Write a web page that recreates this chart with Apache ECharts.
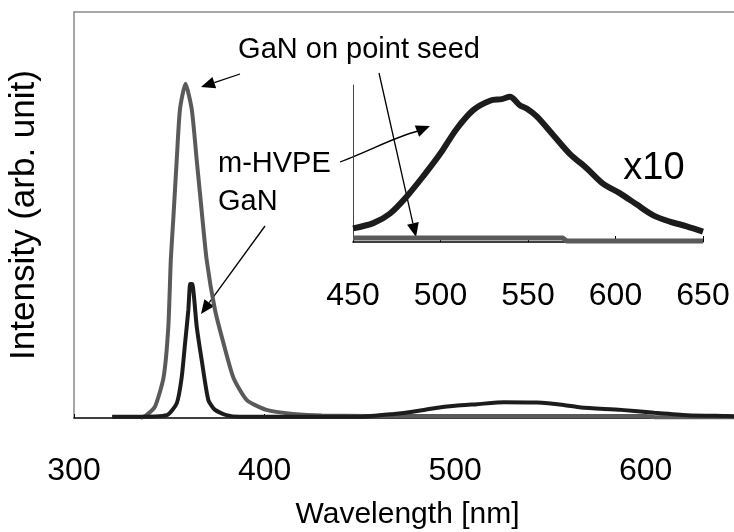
<!DOCTYPE html>
<html>
<head>
<meta charset="utf-8">
<script src="https://cdn.jsdelivr.net/npm/echarts@6/dist/echarts.min.js"></script>
<style>
  html, body { margin: 0; padding: 0; background: #fff; }
  #chart { width: 734px; height: 532px; }
</style>
</head>
<body>
<div id="chart"></div>
<script>
// main spectrum, wavelength [nm] / intensity (arb. unit, 0..1 of axis)
const xTicks = [300, 400, 500, 600]
const insetTicks = [450, 500, 550, 600, 650]

const seedX = [335, 338, 342.5, 347, 349.5, 350.8, 352.1, 353.9, 355.6, 358.5, 361.8, 364.4, 367, 369.6, 374, 378.4, 383.6, 390.7, 401, 415, 430, 480, 600, 605, 650]
const seedY = [0, 0.007, 0.028, 0.10, 0.225, 0.39, 0.49, 0.635, 0.76, 0.823, 0.76, 0.635, 0.51, 0.39, 0.266, 0.185, 0.10, 0.044, 0.02, 0.01, 0.006, 0.005, 0.005, 0.002, 0.002]

const hvpeX = [320, 331, 348.7, 353.9, 356.5, 358.3, 360, 361, 362, 364.4, 367, 370.5, 374, 380, 387, 450, 468, 478.5, 489, 500, 511.5, 525.7, 543, 557, 566, 587, 604.5, 621.8, 642.8, 650]
const hvpeY = [0.003, 0.003, 0.007, 0.036, 0.10, 0.185, 0.266, 0.33, 0.33, 0.225, 0.143, 0.044, 0.02, 0.007, 0.003, 0.003, 0.01, 0.016, 0.024, 0.03, 0.034, 0.039, 0.038, 0.032, 0.026, 0.02, 0.013, 0.007, 0.005, 0.004]

// inset (x10)
const insetHvpeX = [450, 461.6, 471, 480.7, 490.2, 499.7, 509.2, 518.7, 528.3, 535, 539.7, 545.4, 549.2, 555, 564.5, 574, 583.5, 593, 602.6, 612, 621.6, 631, 640.7, 650]
const insetHvpeY = [0.087, 0.12, 0.18, 0.29, 0.42, 0.56, 0.72, 0.84, 0.90, 0.91, 0.925, 0.87, 0.85, 0.80, 0.68, 0.56, 0.47, 0.37, 0.31, 0.24, 0.17, 0.13, 0.10, 0.066]
const insetSeedX = [450, 570, 572, 650]
const insetSeedY = [0.025, 0.025, 0.007, 0.007]

const zip = (xs, ys) => xs.map((x, i) => [x, ys[i]])

const FONT = 'Liberation Sans, Arial, sans-serif'
const GRAY = '#5a5a5a'
const BLACK = '#1c1c1c'

function arrow(x1, y1, x2, y2) {
  const a = Math.atan2(y2 - y1, x2 - x1)
  const len = 14
  const w = 6
  const bx = x2 - len * Math.cos(a)
  const by = y2 - len * Math.sin(a)
  return [
    { type: 'line', shape: { x1: x1, y1: y1, x2: bx, y2: by }, style: { stroke: '#000', lineWidth: 1.3 } },
    { type: 'polygon', shape: { points: [[x2, y2], [bx + w * Math.sin(a), by - w * Math.cos(a)], [bx - w * Math.sin(a), by + w * Math.cos(a)]] }, style: { fill: '#000' } }
  ]
}

function label(text, x, y, size, align) {
  return {
    type: 'text', x: x, y: y,
    style: { text: text, font: size + 'px ' + FONT, fill: '#000', align: align || 'center', verticalAlign: 'middle', textAlign: align || 'center', textVerticalAlign: 'middle' }
  }
}

const myChart = echarts.init(document.getElementById('chart'))

// curved arrow m-HVPE -> inset curve
const curve = { x1: 340, y1: 162, cpx1: 372, cpy1: 150, cpx2: 392, cpy2: 138, x2: 418, y2: 131 }
const tip = [430, 126]

const option = {
  backgroundColor: '#fff',
  animation: false,
  grid: [
    { left: 74, top: 12, width: 667, height: 406, outerBoundsMode: 'none', containLabel: false },
    { left: 353, top: 85, width: 350, height: 157, outerBoundsMode: 'none', containLabel: false }
  ],
  xAxis: [
    {
      gridIndex: 0, type: 'value', min: 300, max: 650, interval: 100,
      axisLine: { lineStyle: { color: '#000', width: 1.5 } },
      axisTick: { show: true, inside: true, length: 4, lineStyle: { color: '#000' } },
      splitLine: { show: false },
      axisLabel: {
        margin: 37, color: '#000', fontSize: 32, fontFamily: FONT, showMaxLabel: false,
        formatter: v => (xTicks.indexOf(v) >= 0 ? String(v) : '')
      },
      name: 'Wavelength [nm]', nameLocation: 'middle', nameGap: 82,
      nameTextStyle: { color: '#000', fontSize: 30, fontFamily: FONT }
    },
    {
      gridIndex: 0, type: 'value', min: 300, max: 650, position: 'top',
      axisLine: { lineStyle: { color: '#8a8a8a', width: 1.5 } },
      axisTick: { show: false }, axisLabel: { show: false }, splitLine: { show: false }
    },
    {
      gridIndex: 1, type: 'value', min: 450, max: 650, interval: 50,
      axisLine: { lineStyle: { color: '#000', width: 1.5 } },
      axisTick: { show: true, inside: true, length: 6, lineStyle: { color: '#000' } },
      splitLine: { show: false },
      axisLabel: {
        margin: 38, color: '#000', fontSize: 32, fontFamily: FONT,
        formatter: v => (insetTicks.indexOf(v) >= 0 ? String(v) : '')
      }
    }
  ],
  yAxis: [
    {
      gridIndex: 0, type: 'value', min: 0, max: 1,
      axisLine: { show: true, lineStyle: { color: '#8a8a8a', width: 1.5 } },
      axisTick: { show: false }, axisLabel: { show: false }, splitLine: { show: false },
      name: 'Intensity (arb. unit)', nameLocation: 'middle', nameGap: 32,
      nameTextStyle: { color: '#000', fontSize: 35, fontFamily: FONT }
    },
    {
      gridIndex: 1, type: 'value', min: 0, max: 1,
      axisLine: { show: true, lineStyle: { color: '#444', width: 1 } },
      axisTick: { show: false }, axisLabel: { show: false }, splitLine: { show: false }
    }
  ],
  series: [
    {
      name: 'GaN on point seed', type: 'line', xAxisIndex: 0, yAxisIndex: 0,
      data: zip(seedX, seedY), symbol: 'none', smooth: 0.2,
      lineStyle: { color: GRAY, width: 4 }
    },
    {
      name: 'm-HVPE GaN', type: 'line', xAxisIndex: 0, yAxisIndex: 0,
      data: zip(hvpeX, hvpeY), symbol: 'none', smooth: 0.2,
      lineStyle: { color: BLACK, width: 4 }
    },
    {
      name: 'GaN on point seed x10', type: 'line', xAxisIndex: 2, yAxisIndex: 1,
      data: zip(insetSeedX, insetSeedY), symbol: 'none',
      lineStyle: { color: GRAY, width: 5 }
    },
    {
      name: 'm-HVPE GaN x10', type: 'line', xAxisIndex: 2, yAxisIndex: 1,
      data: zip(insetHvpeX, insetHvpeY), symbol: 'none', smooth: 0.3,
      lineStyle: { color: BLACK, width: 6 }
    }
  ],
  graphic: [
    label('GaN on point seed', 359, 50, 29),
    label('m-HVPE', 218, 164, 29, 'left'),
    label('GaN', 218, 202, 29, 'left'),
    label('x10', 654, 169, 38),
    ...arrow(240, 74, 201, 87),
    ...arrow(379, 73, 416, 237),
    ...arrow(265, 226, 201, 314),
    { type: 'bezierCurve', shape: curve, style: { stroke: '#000', lineWidth: 1.3, fill: null } },
    ...arrow(416, 131.5, tip[0], tip[1]).slice(1)
  ]
}

myChart.setOption(option)
window.addEventListener('resize', () => {
  myChart.resize()
}, false)
</script>
</body>
</html>
